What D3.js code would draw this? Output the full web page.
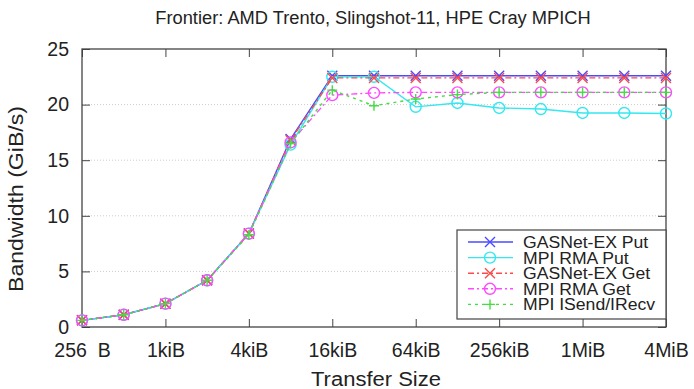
<!DOCTYPE html>
<html>
<head>
<meta charset="utf-8">
<script src="https://cdn.jsdelivr.net/npm/d3@7"></script>
<style>
  body { margin: 0; background: #fff; }
  text { font-family: "Liberation Sans", Arial, sans-serif; fill: #222; }
</style>
</head>
<body>
<svg id="chart" width="694" height="389"></svg>
<script>
// transfer sizes in bytes (256 B .. 4 MiB)
var sizes = [256, 512, 1024, 2048, 4096, 8192, 16384, 32768, 65536, 131072, 262144, 524288, 1048576, 2097152, 4194304];
var tickSizes = [256, 1024, 4096, 16384, 65536, 262144, 1048576, 4194304];
var tickLabels = ["256  B", "1kiB", "4kiB", "16kiB", "64kiB", "256kiB", "1MiB", "4MiB"];
var yTicks = [0, 5, 10, 15, 20, 25];

var gasnetPut = [0.6, 1.1, 2.1, 4.2, 8.4, 16.9, 22.6, 22.6, 22.6, 22.6, 22.6, 22.6, 22.6, 22.6, 22.6];
var mpiRmaPut = [0.6, 1.1, 2.1, 4.2, 8.4, 16.4, 22.5, 22.5, 19.8, 20.15, 19.7, 19.6, 19.25, 19.25, 19.2];
var gasnetGet = [0.6, 1.1, 2.1, 4.2, 8.4, 16.8, 22.4, 22.4, 22.4, 22.4, 22.4, 22.4, 22.4, 22.4, 22.4];
var mpiRmaGet = [0.6, 1.1, 2.1, 4.2, 8.4, 16.6, 20.85, 21.05, 21.1, 21.1, 21.1, 21.1, 21.1, 21.1, 21.1];
var mpiIsend = [0.6, 1.1, 2.1, 4.2, 8.3, 16.5, 21.3, 19.9, 20.5, 20.9, 21.1, 21.1, 21.1, 21.1, 21.1];

var seriesNames = ["GASNet-EX Put", "MPI RMA Put", "GASNet-EX Get", "MPI RMA Get", "MPI ISend/IRecv"];

var series = [
  {name: seriesNames[0], values: gasnetPut, color: "#4a4aff", dash: null, marker: "x"},
  {name: seriesNames[1], values: mpiRmaPut, color: "#33e8f0", dash: null, marker: "o"},
  {name: seriesNames[2], values: gasnetGet, color: "#ff4a4a", dash: "6,3,2,3", marker: "x"},
  {name: seriesNames[3], values: mpiRmaGet, color: "#ff4aff", dash: "6,3,2,3", marker: "o"},
  {name: seriesNames[4], values: mpiIsend, color: "#44dd44", dash: "3,4", marker: "+"}
];

const margin = {top: 49, right: 28, bottom: 62, left: 82},
  width = 694 - margin.left - margin.right,
  height = 389 - margin.top - margin.bottom;

const svg = d3.select("#chart");
const g = svg.append("g").attr("transform", `translate(${margin.left},${margin.top})`);

const x = d3.scaleLog().base(2).domain([256, 4194304]).range([0, width]);
const y = d3.scaleLinear().domain([0, 25]).range([height, 0]);

// grid lines (dotted, faint)
g.selectAll(".grid").data(yTicks.filter(d => d > 0 && d < 25)).join("line")
  .attr("class", "grid")
  .attr("x1", 0).attr("x2", width)
  .attr("y1", d => y(d)).attr("y2", d => y(d))
  .attr("stroke", "#ccc").attr("stroke-width", 1).attr("stroke-dasharray", "1,2");

// axes: ticks point inward, mirrored on top/right
const tl = 8;
g.append("g").attr("transform", `translate(0,${height})`)
  .call(d3.axisBottom(x).tickValues(tickSizes).tickSizeInner(-tl).tickSizeOuter(0).tickPadding(16)
    .tickFormat((d, i) => tickLabels[i]));
g.append("g")
  .call(d3.axisLeft(y).tickValues(yTicks).tickSizeInner(-tl).tickSizeOuter(0).tickPadding(13));
g.append("g")
  .call(d3.axisTop(x).tickValues(tickSizes).tickSizeInner(-tl).tickSizeOuter(0).tickFormat(""));
g.append("g").attr("transform", `translate(${width},0)`)
  .call(d3.axisRight(y).tickValues(yTicks).tickSizeInner(-tl).tickSizeOuter(0).tickFormat(""));

g.selectAll(".domain").remove();
g.selectAll(".tick line").attr("stroke", "#444");
g.selectAll(".tick text").style("font-size", "19.5px").attr("fill", "#222").style("white-space", "pre");
g.append("rect").attr("width", width).attr("height", height)
  .attr("fill", "none").attr("stroke", "#444").attr("stroke-width", 1.3);

// markers
function drawMarker(sel, type, color) {
  if (type === "x") {
    sel.append("path").attr("d", "M-5,-5L5,5M-5,5L5,-5")
      .attr("stroke", color).attr("stroke-width", 1.4).attr("fill", "none");
  } else if (type === "o") {
    sel.append("circle").attr("r", 5.5)
      .attr("stroke", color).attr("stroke-width", 1.4).attr("fill", "none");
  } else {
    sel.append("path").attr("d", "M-5,0L5,0M0,-5L0,5")
      .attr("stroke", color).attr("stroke-width", 1.4).attr("fill", "none");
  }
}

const line = d3.line().x(d => x(d[0])).y(d => y(d[1]));

series.forEach(function(s) {
  const pts = sizes.map((v, i) => [v, s.values[i]]);
  g.append("path").datum(pts)
    .attr("fill", "none").attr("stroke", s.color).attr("stroke-width", 1.4)
    .attr("stroke-dasharray", s.dash)
    .attr("d", line);
  g.selectAll(null).data(pts).join("g")
    .attr("transform", d => `translate(${x(d[0])},${y(d[1])})`)
    .each(function() { drawMarker(d3.select(this), s.marker, s.color); });
});

// legend
const lg = g.append("g").attr("transform", `translate(${457 - margin.left},${230 - margin.top})`);
lg.append("rect").attr("width", 209).attr("height", 89)
  .attr("fill", "#fff").attr("stroke", "#444").attr("stroke-width", 1.2);
series.forEach(function(s, i) {
  const yy = 12 + i * 15.6;
  lg.append("line").attr("x1", 11).attr("x2", 56).attr("y1", yy).attr("y2", yy)
    .attr("stroke", s.color).attr("stroke-width", 1.4).attr("stroke-dasharray", s.dash);
  drawMarker(lg.append("g").attr("transform", `translate(33,${yy})`), s.marker, s.color);
  const t = lg.append("text").attr("x", 66).attr("y", yy + 6).style("font-size", "16px").text(s.name);
  // widen a little, the reference font runs wider than Liberation Sans
  t.attr("textLength", t.node().getComputedTextLength() * 1.1).attr("lengthAdjust", "spacingAndGlyphs");
});

// titles
svg.append("text").attr("x", 373).attr("y", 24).attr("text-anchor", "middle")
  .style("font-size", "18.3px").text("Frontier: AMD Trento, Slingshot-11, HPE Cray MPICH");
svg.append("text").attr("x", 376).attr("y", 386).attr("text-anchor", "middle")
  .style("font-size", "20px").attr("textLength", 130).attr("lengthAdjust", "spacingAndGlyphs")
  .text("Transfer Size");
svg.append("text").attr("transform", "translate(23,199) rotate(-90)").attr("text-anchor", "middle")
  .style("font-size", "19.5px").attr("textLength", 186).attr("lengthAdjust", "spacingAndGlyphs")
  .text("Bandwidth (GiB/s)");
</script>
</body>
</html>
